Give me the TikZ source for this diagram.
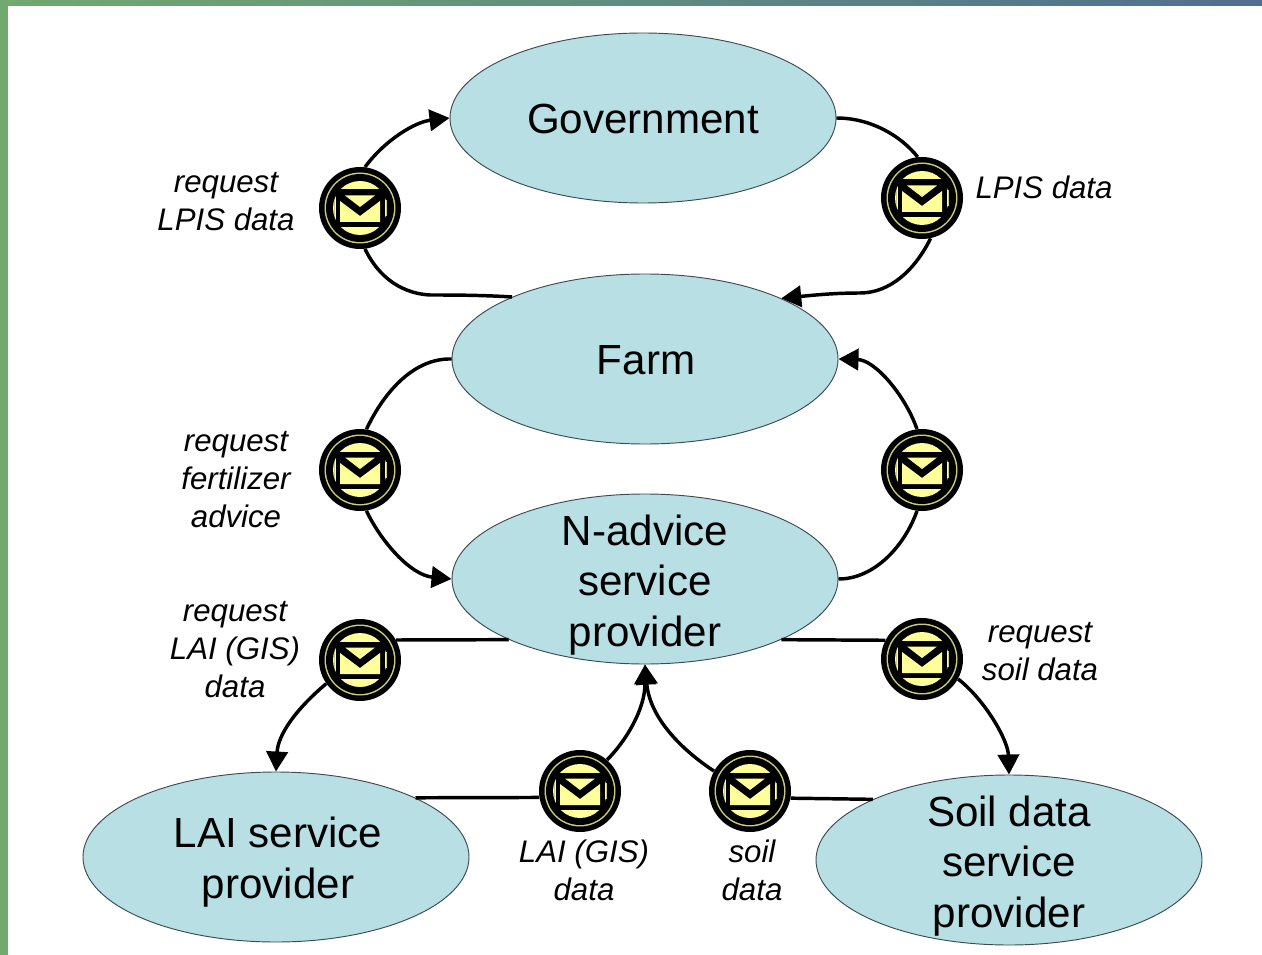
\documentclass[tikz,border=0pt]{standalone}
\usepackage{fontspec}
\setmainfont{Liberation Sans}
\usetikzlibrary{shapes.geometric,arrows.meta}
\definecolor{blobfill}{RGB}{184,223,227}
\definecolor{blobline}{RGB}{60,75,80}
\definecolor{mailyellow}{RGB}{255,255,153}
\definecolor{bandgreen}{RGB}{112,170,110}
\definecolor{bandblue}{RGB}{80,110,145}
\tikzset{
  blob/.style={ellipse,draw=blobline,line width=0.7pt,fill=blobfill,minimum width=289.5pt,minimum height=127.5pt,inner sep=0pt},
  blobtext/.style={align=center,font=\fontsize{31.6}{37.7}\selectfont,inner sep=0pt},
  msglabel/.style={align=center,font=\fontsize{23.4}{28.5}\selectfont\itshape,inner sep=0pt},
  conn/.style={line width=2.6pt,black},
  arr/.style={conn,-{Triangle[length=15pt,width=16pt]},shorten >=0pt},
  mail/.style={circle,draw=none,fill=black,minimum size=61.5pt,inner sep=0pt}
}
\newcommand{\mailnode}[3]{%
  \node[mail] (#1) at (#2,#3) {};
  \begin{scope}[shift={(#1.center)},x=0.75pt,y=-0.75pt]
    \fill[mailyellow!80!black] (0,0) circle[radius=35.5];
    \fill[black] (0,0) circle[radius=34];
    \fill[mailyellow] (0,0) circle[radius=27];
    \fill[black] (-24.5,-18.5) rectangle (24.5,19);
    \fill[mailyellow!80!black] (-26.5,-8) rectangle (-25.5,8);
    \fill[mailyellow!80!black] (25.5,-8) rectangle (26.5,8);
    \fill[mailyellow] (-20,-7) -- (0,8) -- (20,-7) -- (20,14) -- (-20,14) -- cycle;
    \fill[mailyellow] (-15,-12.5) -- (15,-12.5) -- (0,-1) -- cycle;
  \end{scope}
}
\begin{document}
\begin{tikzpicture}[x=0.75pt,y=-0.75pt]
\useasboundingbox (0,0) rectangle (1262,955);
\fill[white] (0,0) rectangle (1262,955);
\fill[bandgreen] (0,0) rectangle (8,955);
\fill[left color=bandgreen,right color=bandblue] (0,0) rectangle (1262,6);

\node[blob,label={[blobtext,yshift=-0.75pt]center:Government}] (gov) at (643,118) {};
\node[blob,label={[blobtext,xshift=0.75pt,yshift=-0.75pt]center:Farm}] (farm) at (645,359) {};
\node[blob,label={[blobtext,yshift=-4.5pt]center:N-advice\\service\\provider}] (nadv) at (645,579) {};
\node[blob,label={[blobtext,xshift=1.5pt,yshift=-3.9pt]center:LAI service\\provider}] (lai) at (276,857) {};
\node[blob,label={[blobtext,yshift=-4.5pt]center:Soil data\\service\\provider}] (soil) at (1009,860) {};

\mailnode{ma}{360}{208}
\mailnode{mb}{922}{198}
\mailnode{mc}{360}{470}
\mailnode{md}{922}{470}
\mailnode{me}{360}{660}
\mailnode{mf}{922}{659}
\mailnode{mg}{580}{791}
\mailnode{mh}{750}{791}

\draw[arr] (ma.83) .. controls (385,140) and (415,122) .. (gov.west);
\draw[conn] (farm.155) .. controls (480,295) and (450,295) .. (430,295) .. controls (395,293) and (375,270) .. (ma.-83);
\draw[conn] (gov.east) .. controls (870,118) and (900,135) .. (mb.96);
\draw[arr] (mb.-78) .. controls (915,270) and (890,293) .. (860,293) .. controls (835,293) and (815,295) .. (farm.24.5);
\draw[conn] (farm.west) .. controls (415,358) and (385,390) .. (mc.81);
\draw[arr] (mc.-81) .. controls (380,540) and (410,575) .. (nadv.west);
\draw[conn] (nadv.east) .. controls (875,579) and (905,545) .. (md.263);
\draw[arr] (md.97) .. controls (905,395) and (875,360) .. (farm.east);
\draw[conn] (nadv.204) -- (me.29);
\draw[arr] (me.215) .. controls (295,710) and (278,735) .. (lai.north);
\draw[conn] (nadv.336) -- (mf.153);
\draw[arr] (mf.-29) .. controls (985,700) and (1008,740) .. (soil.north);
\draw[conn] (lai.23.5) -- (mg.189);
\draw[arr] (mg.49) .. controls (625,742) and (645,710) .. (nadv.south);
\draw[conn] (soil.156) -- (mh.-10);
\draw[arr] (mh.151) .. controls (685,752) and (650,720) .. (nadv.south);

\node[msglabel] (la) at (226,202) {request\\LPIS data};
\node[msglabel] (lb) at (1044,187) {LPIS data};
\node[msglabel] (lc) at (236,480) {request\\fertilizer\\advice};
\node[msglabel] (le) at (235,650) {request\\LAI (GIS)\\data};
\node[msglabel] (lf) at (1040,652) {request\\soil data};
\node[msglabel] (lg) at (584,870) {LAI (GIS)\\data};
\node[msglabel] (lh) at (752,870) {soil\\data};
\end{tikzpicture}
\end{document}
